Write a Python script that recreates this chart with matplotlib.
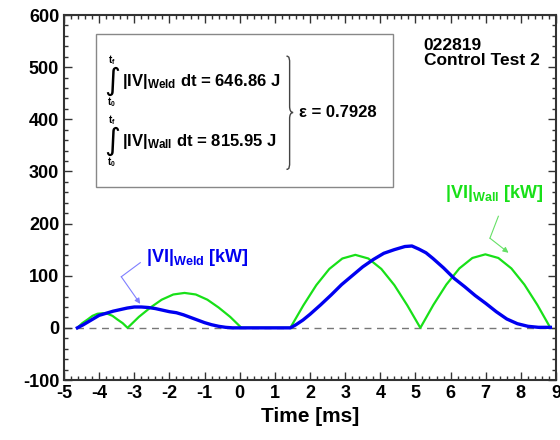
"""Weld vs wall power traces, control test 2."""
import matplotlib
matplotlib.use("Agg")
import matplotlib.pyplot as plt
from matplotlib.path import Path
from matplotlib.patches import PathPatch, Rectangle
from matplotlib.ticker import MultipleLocator

plt.rcParams["font.family"] = ["Liberation Sans", "DejaVu Sans"]
plt.rcParams["font.weight"] = "bold"
plt.rcParams["axes.unicode_minus"] = False
plt.rcParams["mathtext.fontset"] = "custom"
plt.rcParams["mathtext.rm"] = "Liberation Sans:bold"
plt.rcParams["mathtext.it"] = "Liberation Sans:bold"
plt.rcParams["mathtext.bf"] = "Liberation Sans:bold"

# |VI| weld trace [kW]
weld_t = [-4.62, -4.45, -4.3, -4.15, -4.0, -3.8, -3.6, -3.4, -3.2, -3.0, -2.8,
          -2.6, -2.4, -2.2, -2.0, -1.8, -1.6, -1.4, -1.2, -1.0, -0.8, -0.6,
          -0.4, -0.2, 0.0, 0.5, 1.0, 1.44, 1.6, 1.8, 2.0, 2.3, 2.6, 2.9, 3.2,
          3.5, 3.8, 4.1, 4.4, 4.7, 4.9, 5.1, 5.3, 5.5, 5.8, 6.1, 6.4, 6.7,
          7.0, 7.3, 7.6, 7.9, 8.2, 8.5, 8.84]
weld_v = [0, 6, 12, 18, 24, 28, 32, 35, 38, 40, 40,
          39, 37, 34, 31, 29, 25, 20, 15, 10, 6, 3,
          1, 0, 0, 0, 0, 0, 6, 15, 26, 44, 63, 83, 100,
          117, 131, 143, 150, 156, 157, 151, 144, 133, 115, 95, 79, 62,
          47, 31, 17, 8, 3, 1, 1]

# |VI| wall trace [kW] (green arcs)
wall_t = [-4.62, -4.48, -4.33, -4.19, -4.05, -3.90, -3.76, -3.62, -3.48, -3.33,
          -3.19, -2.87, -2.54, -2.22, -1.89, -1.57, -1.25, -0.92, -0.60, -0.27,
          0.05, 1.44, 1.81, 2.18, 2.55, 2.92, 3.29, 3.66, 4.03, 4.40, 4.77,
          5.14, 5.51, 5.88, 6.25, 6.62, 6.99, 7.36, 7.73, 8.10, 8.47, 8.84]
wall_v = [0, 9, 16, 23, 27, 28, 27, 23, 16, 9,
          0, 21, 39, 54, 64, 67, 64, 54, 39, 21,
          0, 0, 43, 82, 113, 133, 140, 133, 113, 82, 43,
          0, 44, 83, 114, 134, 141, 134, 114, 83, 44, 0]

e_weld = 646.86
e_wall = 815.95
efficiency = 0.7928
test_id = "022819"
test_name = "Control Test 2"

BLUE = "#0000f0"
GREEN = "#18e018"


def draw_brace(ax, xa, xb, xc, ytop, ymid, ybot):
    codes = [Path.MOVETO, Path.CURVE4, Path.CURVE4, Path.CURVE4, Path.LINETO,
             Path.CURVE4, Path.CURVE4, Path.CURVE4,
             Path.CURVE4, Path.CURVE4, Path.CURVE4, Path.LINETO,
             Path.CURVE4, Path.CURVE4, Path.CURVE4]
    verts = [(xa, ytop), (xb, ytop), (xb, ytop - 5), (xb, ytop - 16), (xb, ymid + 12),
             (xb, ymid + 5), (xb + 0.03, ymid), (xc, ymid),
             (xb + 0.03, ymid), (xb, ymid - 5), (xb, ymid - 12), (xb, ybot + 16),
             (xb, ybot + 5), (xb, ybot), (xa, ybot)]
    ax.add_patch(PathPatch(Path(verts, codes), fill=False, lw=1.0, color="#444444"))


def main():
    fig = plt.figure(figsize=(5.6, 4.4), dpi=100)
    ax = fig.add_axes([64 / 560, 60 / 440, 492 / 560, 365 / 440])

    ax.axhline(0, color="#777777", lw=1.0, ls=(0, (5, 4)), zorder=1)
    ax.plot(wall_t, wall_v, color=GREEN, lw=1.6, zorder=2)
    ax.plot(weld_t, weld_v, color=BLUE, lw=2.4, zorder=3, solid_joinstyle="round")

    ax.set_xlim(-5, 9)
    ax.set_ylim(-100, 600)
    ax.xaxis.set_major_locator(MultipleLocator(1))
    ax.xaxis.set_minor_locator(MultipleLocator(0.2))
    ax.yaxis.set_major_locator(MultipleLocator(100))
    ax.yaxis.set_minor_locator(MultipleLocator(20))
    ax.tick_params(which="both", direction="in", top=True, right=True,
                   labelsize=13, width=1.0, color="#333333")
    ax.tick_params(which="major", length=6)
    ax.tick_params(which="minor", length=3)
    for lab in ax.get_xticklabels() + ax.get_yticklabels():
        lab.set_fontweight("bold")
    for sp in ax.spines.values():
        sp.set_linewidth(1.5)
        sp.set_color("#333333")
    ax.set_xlabel("Time [ms]", fontsize=15, fontweight="bold", labelpad=4)

    # energy box
    ax.add_patch(Rectangle((-4.09, 271), 8.46, 292, fill=False, lw=1.0,
                           edgecolor="#888888", zorder=4))
    for y_c, sub, val in [(473, "Weld", e_weld), (358, "Wall", e_wall)]:
        ax.text(-3.62, y_c, "\u222b", fontsize=22, family="DejaVu Sans",
                fontweight="normal", ha="center", va="center")
        ax.text(-3.64, y_c + 40, "$\\mathrm{t_f}$", fontsize=7, ha="center", va="center")
        ax.text(-3.64, y_c - 40, "$\\mathrm{t_0}$", fontsize=7, ha="center", va="center")
        ax.text(-3.36, y_c, "$|\\mathrm{IV}|_{\\mathrm{%s}}$ dt = %.2f J" % (sub, val),
                fontsize=12, ha="left", va="center")
    draw_brace(ax, 1.33, 1.42, 1.52, 521, 413, 304)
    ax.text(1.68, 413, "\u03b5 = %.4f" % efficiency, fontsize=12, ha="left", va="center")

    ax.text(5.23, 556, test_id + "\n" + test_name, fontsize=12.5, ha="left", va="top",
            linespacing=1.0)

    # curve labels with bent arrows
    ax.text(-2.66, 135, "$|\\mathrm{VI}|_{\\mathrm{Weld}}$ [kW]", fontsize=13,
            color=BLUE, ha="left", va="center")
    ax.plot([-2.83, -3.37], [125, 98], color="#7f7fff", lw=0.8)
    ax.annotate("", xy=(-2.83, 46), xytext=(-3.37, 98),
                arrowprops=dict(arrowstyle="-|>", color="#7f7fff", lw=0.8,
                                mutation_scale=8, shrinkA=0, shrinkB=0))

    ax.text(5.83, 258, "$|\\mathrm{VI}|_{\\mathrm{Wall}}$ [kW]", fontsize=13,
            color=GREEN, ha="left", va="center")
    ax.plot([7.36, 7.12], [214, 172], color="#66e066", lw=0.8)
    ax.annotate("", xy=(7.65, 144), xytext=(7.12, 172),
                arrowprops=dict(arrowstyle="-|>", color="#66e066", lw=0.8,
                                mutation_scale=8, shrinkA=0, shrinkB=0))

    fig.savefig("out.png", dpi=100)


if __name__ == "__main__":
    main()
